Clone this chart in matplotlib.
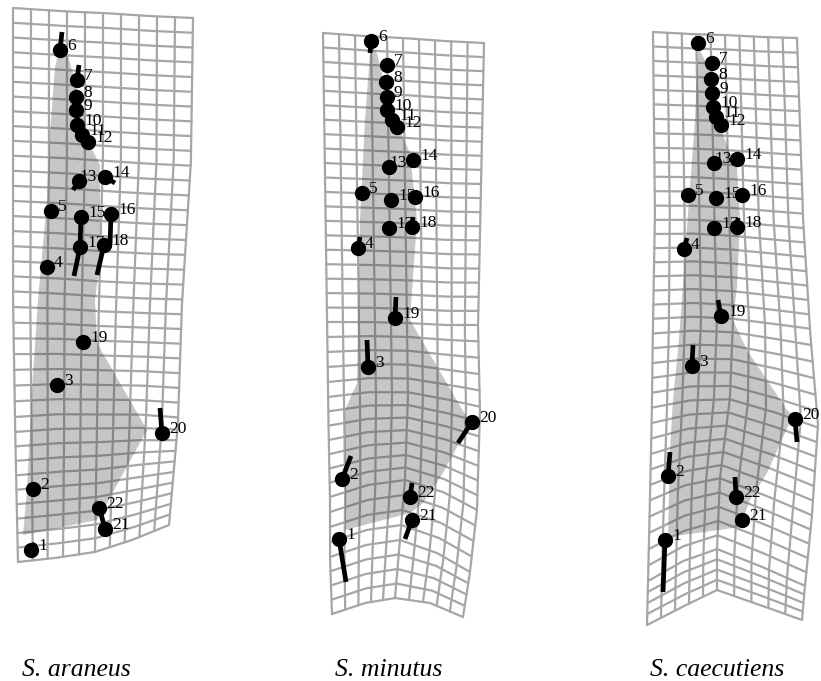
import numpy as np
import matplotlib
matplotlib.use("Agg")
import matplotlib.pyplot as plt
from matplotlib.patches import Polygon

# ---------------------------------------------------------------------------
# Landmark numbering (1..22) and species titles
landmark_ids = list(range(1, 23))
species = ["S. araneus", "S. minutus", "S. caecutiens"]

# ---------------------------------------------------------------------------
# S. araneus : landmark positions (x, y) and vector tips
araneus_x = [31, 33, 57, 47, 51, 60, 77, 76, 76, 77, 82, 88, 79, 105, 81, 111, 80, 104, 83, 162, 105, 99]
araneus_y = [550, 489, 385, 267, 211, 50, 80, 97, 110, 125, 135, 142, 181, 177, 217, 214, 247, 245, 342, 433, 529, 508]
araneus_tip_x = [35, 33, 57, 47, 51, 62, 79, 77, 76, 77, 80, 84, 73, 115, 80, 110, 74, 97, 83, 160, 100, 99]
araneus_tip_y = [543, 489, 385, 267, 211, 32, 65, 90, 103, 117, 128, 137, 190, 183, 247, 245, 276, 275, 342, 408, 510, 508]
araneus_shade_x = [60, 68, 82, 90, 100, 100, 95, 97, 147, 107, 97, 23, 27, 32, 38, 47, 50, 55]
araneus_shade_y = [48, 56, 105, 145, 165, 260, 300, 343, 430, 503, 520, 535, 490, 390, 300, 200, 133, 67]
# deformation grid: rib curves (row fraction, 5 x-values, 5 y-values)
araneus_rib_v = [0.0, 0.26, 0.52, 0.74, 1.0]
araneus_rib_x = [[13, 58, 103, 148, 193],
                 [13, 58, 103, 148, 191],
                 [13, 56, 99, 142, 182],
                 [15, 56, 97, 138, 178],
                 [18, 55, 95, 132, 169]]
araneus_rib_y = [[8, 11, 13, 16, 18],
                 [150, 152, 155, 158, 160],
                 [295, 297, 300, 302, 303],
                 [423, 420, 420, 420, 423],
                 [562, 558, 552, 540, 525]]
araneus_rows, araneus_cols = 37, 10

# ---------------------------------------------------------------------------
# S. minutus
minutus_x = [339, 342, 368, 358, 362, 371, 387, 386, 387, 387, 392, 397, 389, 413, 391, 415, 389, 412, 395, 472, 412, 410]
minutus_y = [539, 479, 367, 248, 193, 41, 65, 82, 97, 110, 120, 127, 167, 160, 200, 197, 228, 227, 318, 422, 520, 497]
minutus_tip_x = [346, 351, 367, 360, 362, 370, 387, 386, 387, 387, 391, 395, 389, 413, 391, 415, 390, 413, 396, 458, 405, 412]
minutus_tip_y = [582, 456, 340, 237, 193, 53, 65, 82, 97, 116, 124, 127, 167, 160, 200, 197, 222, 217, 297, 443, 539, 483]
minutus_shade_x = [370, 377, 393, 403, 410, 417, 410, 470, 443, 423, 410, 345, 345, 357, 358, 360, 365, 370]
minutus_shade_y = [45, 53, 120, 137, 153, 220, 320, 423, 473, 503, 513, 530, 410, 383, 320, 220, 120, 53]
minutus_rib_v = [0.0, 0.5, 0.63, 0.8, 0.9, 1.0]
minutus_rib_x = [[323, 363, 403, 443, 484],
                 [327, 367, 407, 445, 478],
                 [328, 368, 408, 445, 480],
                 [330, 368, 405, 443, 477],
                 [330, 366, 400, 437, 470],
                 [332, 365, 395, 430, 463]]
minutus_rib_y = [[33, 36, 38, 41, 43],
                 [322, 322, 323, 325, 325],
                 [400, 395, 395, 402, 410],
                 [497, 485, 480, 492, 510],
                 [557, 545, 540, 553, 572],
                 [614, 603, 598, 603, 617]]
minutus_rows, minutus_cols = 40, 10

# ---------------------------------------------------------------------------
# S. caecutiens
caecutiens_x = [665, 668, 692, 684, 688, 698, 712, 711, 712, 713, 716, 721, 714, 737, 716, 742, 714, 737, 721, 795, 742, 736]
caecutiens_y = [540, 476, 366, 249, 195, 43, 63, 79, 93, 107, 117, 125, 163, 159, 198, 195, 228, 227, 316, 419, 520, 497]
caecutiens_tip_x = [663, 670, 693, 687, 688, 695, 712, 711, 712, 713, 716, 721, 714, 737, 716, 742, 714, 738, 718, 797, 742, 735]
caecutiens_tip_y = [592, 452, 345, 238, 195, 48, 63, 79, 93, 107, 117, 125, 163, 159, 198, 195, 228, 218, 300, 442, 520, 477]
caecutiens_shade_x = [698, 710, 720, 730, 737, 740, 737, 733, 747, 787, 793, 767, 750, 740, 668, 670, 673, 678, 682, 685, 690, 695]
caecutiens_shade_y = [47, 70, 127, 153, 167, 220, 287, 320, 350, 410, 415, 473, 500, 527, 537, 450, 400, 350, 300, 253, 187, 120]
caecutiens_rib_v = [0.0, 0.3, 0.49, 0.63, 0.78, 0.9, 1.0]
caecutiens_rib_x = [[653, 689, 725, 761, 797],
                    [655, 692, 729, 766, 803],
                    [653, 693, 733, 773, 810],
                    [652, 690, 730, 775, 818],
                    [650, 685, 720, 765, 812],
                    [648, 683, 717, 760, 805],
                    [647, 682, 717, 760, 802]]
caecutiens_rib_y = [[32, 34, 35, 37, 38],
                    [210, 210, 212, 215, 218],
                    [320, 318, 320, 325, 330],
                    [405, 398, 397, 410, 425],
                    [500, 485, 478, 495, 515],
                    [580, 560, 548, 565, 585],
                    [625, 607, 590, 605, 620]]
caecutiens_rows, caecutiens_cols = 41, 10

# title placement (left x of each title)
title_x = [22, 335, 650]
title_baseline = 676

panels = [
    dict(x=araneus_x, y=araneus_y, tx=araneus_tip_x, ty=araneus_tip_y,
         sx=araneus_shade_x, sy=araneus_shade_y, rv=araneus_rib_v,
         rx=araneus_rib_x, ry=araneus_rib_y, rows=araneus_rows, cols=araneus_cols),
    dict(x=minutus_x, y=minutus_y, tx=minutus_tip_x, ty=minutus_tip_y,
         sx=minutus_shade_x, sy=minutus_shade_y, rv=minutus_rib_v,
         rx=minutus_rib_x, ry=minutus_rib_y, rows=minutus_rows, cols=minutus_cols),
    dict(x=caecutiens_x, y=caecutiens_y, tx=caecutiens_tip_x, ty=caecutiens_tip_y,
         sx=caecutiens_shade_x, sy=caecutiens_shade_y, rv=caecutiens_rib_v,
         rx=caecutiens_rib_x, ry=caecutiens_rib_y, rows=caecutiens_rows, cols=caecutiens_cols),
]

GRID_COLOR = "#a6a6a6"
SERIF = ["Liberation Serif", "DejaVu Serif"]
# label offset from its landmark (px); landmark 13 sits tucked against its dot
LABEL_DX = {13: 0}
DEFAULT_DX = 7


def surface(p, u, v):
    """Points of the deformed grid at lattice coords (u, v); u and v are arrays."""
    uk = np.linspace(0, 1, len(p["rx"][0]))
    u = np.atleast_1d(u).astype(float)
    v = np.broadcast_to(np.atleast_1d(v).astype(float), u.shape)
    rib_x = np.array([np.interp(u, uk, r) for r in p["rx"]])
    rib_y = np.array([np.interp(u, uk, r) for r in p["ry"]])
    xs = np.array([np.interp(v[i], p["rv"], rib_x[:, i]) for i in range(len(u))])
    ys = np.array([np.interp(v[i], p["rv"], rib_y[:, i]) for i in range(len(u))])
    return xs, ys


fig = plt.figure(figsize=(8.21, 6.81), dpi=100)
ax = fig.add_axes([0, 0, 1, 1])
ax.set_xlim(0, 821)
ax.set_ylim(681, 0)
ax.axis("off")

fine = np.linspace(0, 1, 240)
for p in panels:
    # horizontal grid lines
    for r in range(p["rows"] + 1):
        xs, ys = surface(p, fine, np.full_like(fine, r / p["rows"]))
        ax.plot(xs, ys, color=GRID_COLOR, lw=1.6, zorder=1, solid_capstyle="round")
    # vertical grid lines
    for c in range(p["cols"] + 1):
        xs, ys = surface(p, np.full_like(fine, c / p["cols"]), fine)
        ax.plot(xs, ys, color=GRID_COLOR, lw=1.6, zorder=1, solid_capstyle="round")

    # shaded outline of the landmark configuration
    ax.add_patch(Polygon(np.column_stack([p["sx"], p["sy"]]), closed=True,
                         facecolor="#3d3d3d", alpha=0.29, edgecolor="none", zorder=2))

    # landmark labels (below the dots)
    for i, lid in enumerate(landmark_ids):
        ax.text(p["x"][i] + LABEL_DX.get(lid, DEFAULT_DX), p["y"][i] - 4, str(lid),
                fontsize=12.5, family=SERIF, ha="left", va="center", zorder=3)

    # displacement vectors and landmarks
    for i in range(len(landmark_ids)):
        ax.plot([p["x"][i], p["tx"][i]], [p["y"][i], p["ty"][i]], color="black",
                lw=3.4, solid_capstyle="butt", zorder=4)
    ax.plot(p["x"], p["y"], "o", color="black", markersize=10, zorder=5)

for name, tx in zip(species, title_x):
    ax.text(tx, title_baseline, name, fontsize=18.5, family=SERIF, style="italic",
            ha="left", va="baseline")

fig.savefig("out.png", dpi=100)
